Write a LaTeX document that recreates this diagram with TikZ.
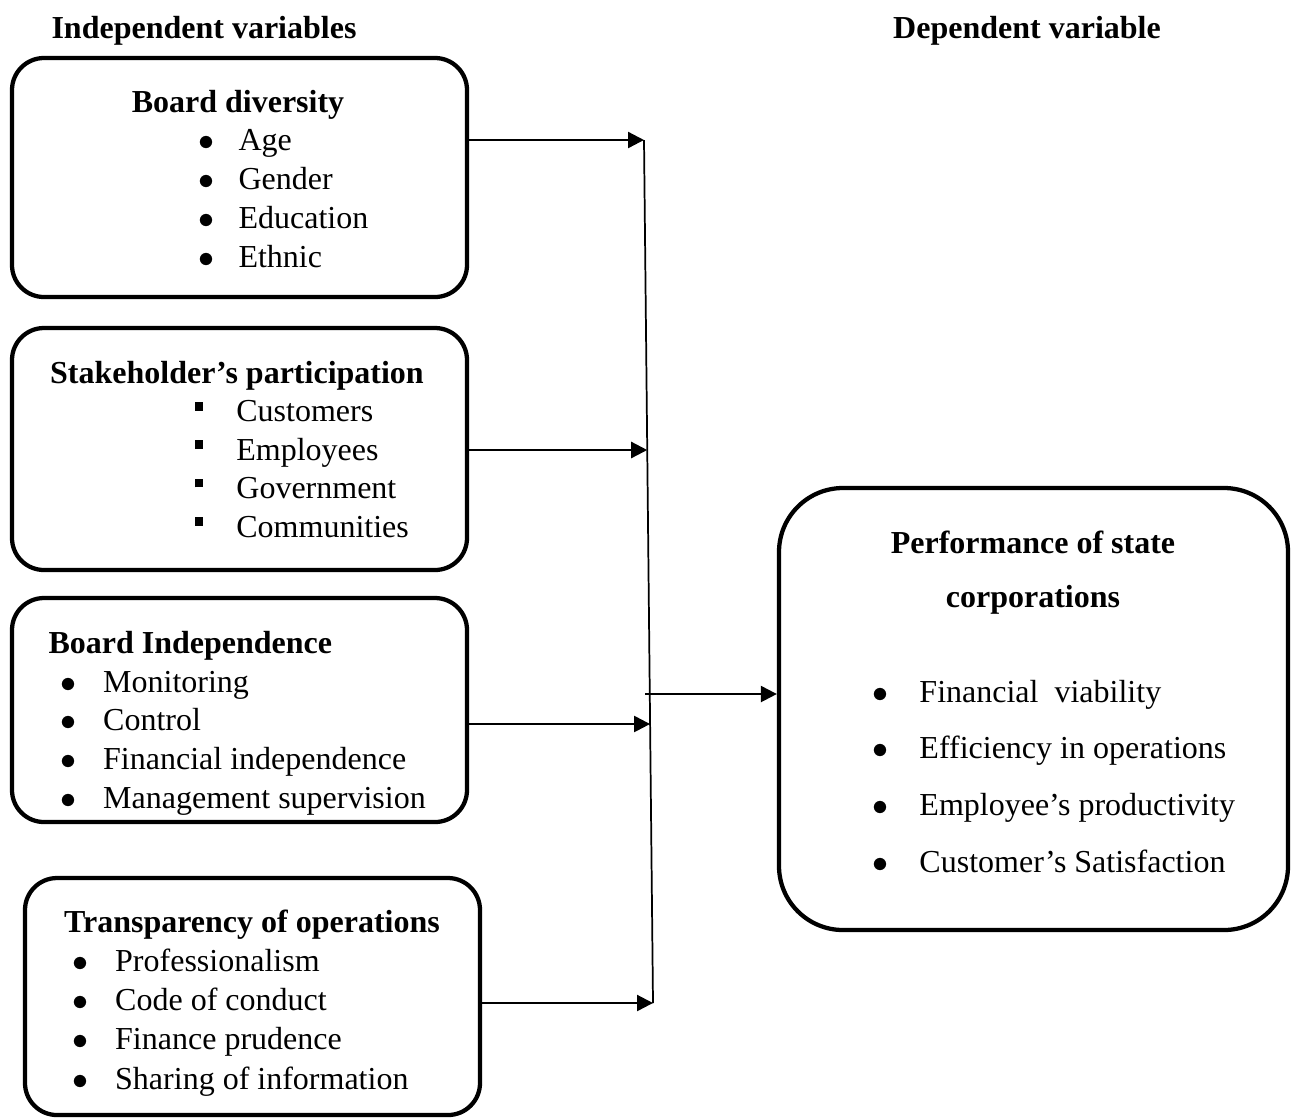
\documentclass[tikz,border=0pt]{standalone}
\usepackage{fontspec}
\setmainfont{Liberation Serif}
\usetikzlibrary{arrows.meta,positioning,fit,calc}
\newcommand{\blt}[1][15pt]{\makebox[#1][l]{$\bullet$}}
\newcommand{\sqb}[1][15.7pt]{\makebox[#1][l]{\rule[4.2pt]{3.3pt}{3.3pt}}}
\tikzset{
  caja/.style   = {rectangle, draw=black, line width=1.6pt,
                   rounded corners=12pt, inner sep=0pt},
  titulo/.style = {font=\fontsize{12}{14.5}\selectfont\bfseries,
                   anchor=base, inner sep=0pt},
  lista/.style  = {font=\fontsize{12}{#1}\selectfont, align=left,
                   anchor=base west, inner sep=0pt},
  flecha/.style = {-{Triangle[length=6pt,width=6pt]}, line width=0.85pt},
  barra/.style  = {line width=0.65pt},
}

\begin{document}
\begin{tikzpicture}[x=0.375pt, y=-0.375pt]
    \useasboundingbox (0,0) rectangle (1293,1119);

    % --- encabezados
    \node[titulo] (tind) at (204,38) {Independent variables};
    \node[titulo] (tdep) at (1027,38) {Dependent variable};

    % --- variables independientes (listas ancladas en la última línea)
    \node[caja, fit={(12,58)(467,297)}] (bdiv) {};
    \node[titulo] (hbdiv) at (238,112) {Board diversity};
    \node[lista=14.6pt] (lbdiv) at (198,267)
      {\blt Age\\ \blt Gender\\ \blt Education\\ \blt Ethnic};

    \node[caja, fit={(12,328)(467,570)}] (stak) {};
    \node[titulo] (hstak) at (237,383) {Stakeholder’s participation};
    \node[lista=14.4pt] (lstak) at (194,537)
      {\sqb Customers\\ \sqb Employees\\ \sqb Government\\ \sqb Communities};

    \node[caja, fit={(12,598)(467,822)}] (bind) {};
    \node[titulo, anchor=base west] (hbind) at (48,653) {Board Independence};
    \node[lista=14.5pt] (lbind) at (60,808)
      {\blt[16pt]Monitoring\\ \blt[16pt]Control\\
       \blt[16pt]Financial independence\\ \blt[16pt]Management supervision};

    \node[caja, fit={(25,878)(480,1115)}] (trans) {};
    \node[titulo] (htrans) at (252,932) {Transparency of operations};
    \node[lista=14.75pt] (ltrans) at (72,1089)
      {\blt[16pt]Professionalism\\ \blt[16pt]Code of conduct\\
       \blt[16pt]Finance prudence\\ \blt[16pt]Sharing of information};

    % --- variable dependiente
    \node[caja, rounded corners=24pt, fit={(779,488)(1288,930)}] (perf) {};
    \node[titulo, align=center, font=\fontsize{12}{20.25}\selectfont\bfseries]
      (hperf) at (1033,607) {Performance of state\\ corporations};
    \node[lista=21.25pt] (lperf) at (872,872)
      {\blt[17.6pt]Financial\ \ viability\\ \blt[17.6pt]Efficiency in operations\\
       \blt[17.6pt]Employee’s productivity\\ \blt[17.6pt]Customer’s Satisfaction};

    % --- barra colectora
    \coordinate (bt) at (644,140);
    \coordinate (bb) at (653,1003);
    \coordinate (j2) at ($(bt)!0.3592!(bb)$);
    \coordinate (j3) at ($(bt)!0.6767!(bb)$);
    \coordinate (sal) at (645,694);
    \draw[barra] (bt) -- (bb);

    % --- flechas
    \draw[flecha] (bdiv.east |- bt) -- (bt);
    \draw[flecha] (stak.east |- j2) -- (j2);
    \draw[flecha] (bind.east |- j3) -- (j3);
    \draw[flecha] (trans.east |- bb) -- (bb);
    \draw[flecha] (sal) -- (perf.west |- sal);
\end{tikzpicture}
\end{document}
